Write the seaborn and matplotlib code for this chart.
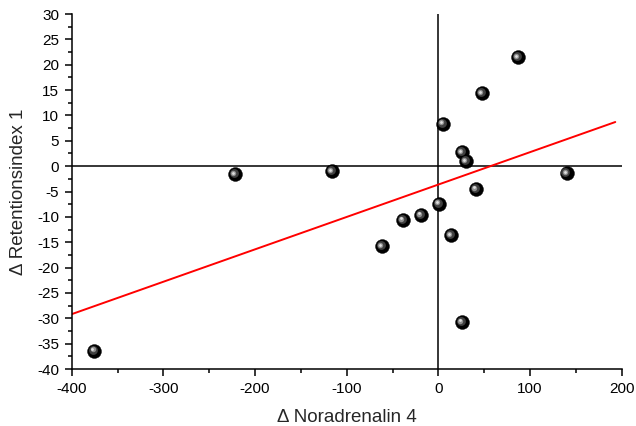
import numpy as np
import pandas as pd
import matplotlib
matplotlib.use("Agg")
import matplotlib.pyplot as plt
from matplotlib.transforms import offset_copy
from matplotlib.ticker import MultipleLocator
import seaborn as sns

# Change in noradrenaline vs. change in retention index
d_noradrenalin = [87.0, 47.7, 4.8, 25.5, 30.2, 41.0, 140.0, 0.8, 13.9,
                  -19.0, -38.5, -61.4, -116.0, -222.0, -375.3, 25.9]
d_retention = [21.5, 14.4, 8.4, 2.7, 1.0, -4.5, -1.4, -7.4, -13.6,
               -9.6, -10.6, -15.8, -1.0, -1.6, -36.4, -30.7]
fit_range = [-400, 193]

x_ticks = [-400, -300, -200, -100, 0, 100, 200]
y_ticks = list(range(-40, 31, 5))

df = pd.DataFrame({"x": d_noradrenalin, "y": d_retention})

sns.set_style("white")
plt.rcParams["font.family"] = ["Liberation Sans", "DejaVu Sans"]
plt.rcParams["axes.unicode_minus"] = False

fig = plt.figure(figsize=(6.36, 4.26), dpi=100)
ax = fig.add_axes([0.1127, 0.1338, 0.8648, 0.8333])

# zero reference lines
ax.axhline(0, color="black", lw=1.1, zorder=1)
ax.axvline(0, color="black", lw=1.1, zorder=1)

# least-squares line
slope, intercept = np.polyfit(df["x"], df["y"], 1)
fx = np.array(fit_range, dtype=float)
ax.plot(fx, slope * fx + intercept, color="red", lw=1.4, zorder=2)

# shaded spheres: dark body plus layered highlights
sns.scatterplot(data=df, x="x", y="y", ax=ax, s=100, color="black",
                edgecolor="black", linewidth=0.3, zorder=3, legend=False)
hl1 = offset_copy(ax.transData, fig=fig, x=-1.2, y=1.0, units="dots")
ax.scatter(df["x"], df["y"], s=40, color="#404040", linewidth=0,
           transform=hl1, zorder=4)
hl2 = offset_copy(ax.transData, fig=fig, x=-1.8, y=1.3, units="dots")
ax.scatter(df["x"], df["y"], s=15, color="#909090", linewidth=0,
           transform=hl2, zorder=5)
hl3 = offset_copy(ax.transData, fig=fig, x=-2.0, y=1.5, units="dots")
ax.scatter(df["x"], df["y"], s=4, color="#e0e0e0", linewidth=0,
           transform=hl3, zorder=6)

ax.set_xlim(-400, 200)
ax.set_ylim(-40, 30)
ax.set_xticks(x_ticks)
ax.set_yticks(y_ticks)
ax.xaxis.set_minor_locator(MultipleLocator(50))
ax.yaxis.set_minor_locator(MultipleLocator(2.5))

for side in ("top", "right"):
    ax.spines[side].set_visible(False)
for side in ("left", "bottom"):
    ax.spines[side].set_color("black")
    ax.spines[side].set_linewidth(1.1)

ax.tick_params(which="major", direction="out", length=5, width=1.1,
               colors="black", labelsize=11, bottom=True, left=True, pad=4)
ax.tick_params(which="minor", direction="out", length=3, width=1.1,
               colors="black", bottom=True, left=True)

ax.set_xlabel("\u0394 Noradrenalin 4", fontsize=13.5, labelpad=9.5)
ax.set_ylabel("\u0394 Retentionsindex 1", fontsize=13.5, labelpad=7)

fig.savefig("out.png", dpi=100)
